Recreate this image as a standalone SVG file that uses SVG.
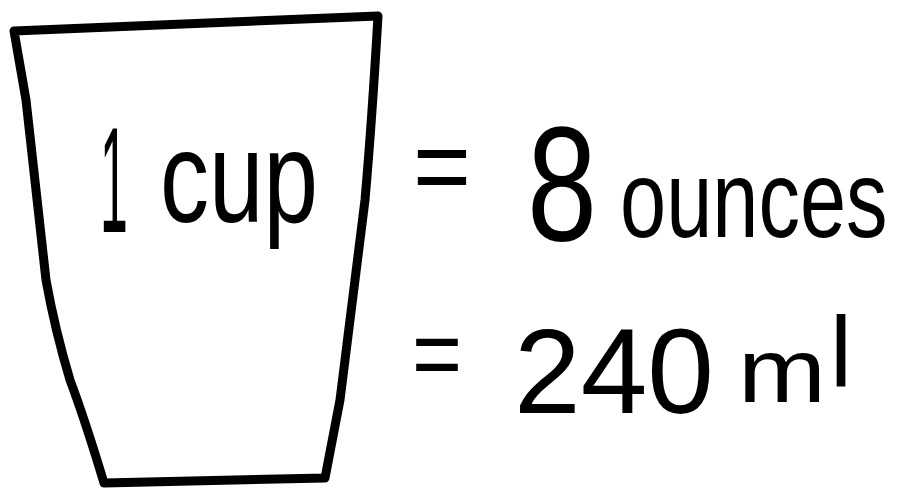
<svg xmlns="http://www.w3.org/2000/svg" width="901" height="492" viewBox="0 0 901 492">
<style>
.ink{fill:none;stroke:#000;stroke-width:9;stroke-linejoin:round;stroke-linecap:round}
.t{font-family:"Liberation Sans","DejaVu Sans",sans-serif;fill:#000}
</style>
<rect width="901" height="492" fill="#fff"/>
<g id="cup">
<path class="ink" d="M14 31 L378 16 Q372 120 365 200 L340 400 L325 478 L104 483 Q85 420 70 380 Q55 330 46 280 L26 100 Z"/>
<text class="t" transform="translate(100,232) scale(1,3)" font-size="50">1</text>
<text class="t" transform="translate(160,222) scale(1,1.327)" font-size="98">cup</text>
</g>
<g id="ounces">
<text class="t" x="413" y="203" font-size="110" textLength="58" lengthAdjust="spacingAndGlyphs">=</text>
<text class="t" x="527" y="240" font-size="163" textLength="70" lengthAdjust="spacingAndGlyphs">8</text>
<text class="t" transform="translate(620,237) scale(1,1.325)" font-size="83">ounces</text>
</g>
<g id="ml">
<text class="t" x="412" y="388" font-size="100" textLength="50" lengthAdjust="spacingAndGlyphs">=</text>
<text class="t" x="514" y="413" font-size="120" textLength="200" lengthAdjust="spacingAndGlyphs">240</text>
<text class="t" x="738" y="402" font-size="90" textLength="88" lengthAdjust="spacingAndGlyphs">m</text>
<text class="t" x="830" y="387" font-size="100" textLength="22" lengthAdjust="spacingAndGlyphs">l</text>
</g>
</svg>
